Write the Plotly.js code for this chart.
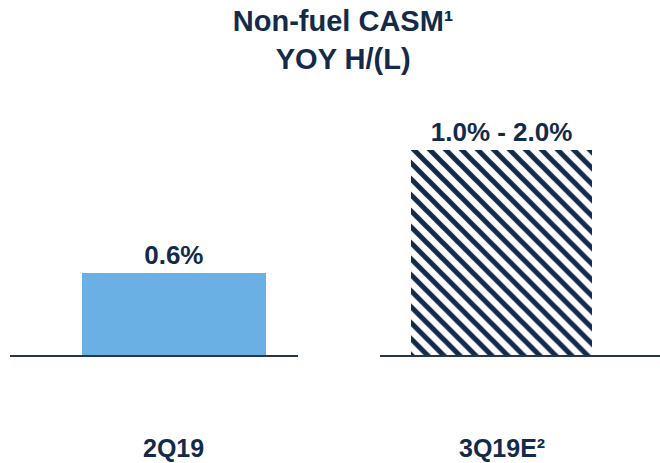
<!DOCTYPE html>
<html>
<head>
<meta charset="utf-8">
<script src="https://cdn.plot.ly/plotly-3.0.1.min.js"></script>
<style>html,body{margin:0;padding:0;background:#fff;}#chart{width:660px;height:463px;}</style>
</head>
<body>
<div id="chart"></div>
<script>
// Data
const categories = ['2Q19', '3Q19E²'];
const values = [0.6, 1.5];
const valueLabels = ['0.6%', '1.0% - 2.0%'];
const titleText = 'Non-fuel CASM¹<br>YOY H/(L)';

const NAVY = '#132A4A';
const LIGHTBLUE = '#6AB0E4';
const FONT = 'Liberation Sans, Arial, sans-serif';

const traces = [
  {
    type: 'bar', x: [categories[0]], y: [values[0]], text: [valueLabels[0]],
    textposition: 'outside', cliponaxis: false, width: 0.64,
    textfont: {family: FONT, size: 26, color: NAVY, weight: 'bold'},
    marker: {color: LIGHTBLUE, line: {width: 0}},
    xaxis: 'x', yaxis: 'y', hoverinfo: 'none'
  },
  {
    type: 'bar', x: [categories[1]], y: [values[1]], text: [valueLabels[1]],
    textposition: 'outside', cliponaxis: false, width: 0.64,
    textfont: {family: FONT, size: 26, color: NAVY, weight: 'bold'},
    marker: {color: 'white', line: {width: 0},
      pattern: {shape: '\\', fgcolor: NAVY, bgcolor: 'white', size: 11.3, solidity: 0.45, fillmode: 'replace'}},
    xaxis: 'x2', yaxis: 'y2', hoverinfo: 'none'
  }
];

const axisX = {
  showline: true, linecolor: '#26364F', linewidth: 2, showgrid: false, zeroline: false,
  showticklabels: false, ticks: '', fixedrange: true
};
const axisY = {
  range: [0, 1.865], showline: false, showgrid: false, zeroline: false,
  showticklabels: false, ticks: '', fixedrange: true
};

const layout = {
  width: 660, height: 463,
  margin: {l: 0, r: 0, t: 100, b: 108},
  paper_bgcolor: 'white', plot_bgcolor: 'white',
  showlegend: false,
  bargap: 0,
  title: {
    text: titleText, x: 0.52, xanchor: 'center', xref: 'container',
    y: 0.932, yanchor: 'top', yref: 'container',
    font: {family: FONT, size: 29, color: NAVY, weight: 'bold'}
  },
  xaxis: Object.assign({}, axisX, {domain: [0.0152, 0.4515], range: [-0.570, 0.432], type: 'category'}),
  xaxis2: Object.assign({}, axisX, {domain: [0.5758, 1.0], range: [-0.428, 0.558], type: 'category', anchor: 'y2'}),
  yaxis: Object.assign({}, axisY, {anchor: 'x'}),
  yaxis2: Object.assign({}, axisY, {anchor: 'x2'}),
  annotations: categories.map((c, i) => ({
    text: c, x: c, xref: i === 0 ? 'x' : 'x2', y: -0.365, yref: 'paper',
    xanchor: 'center', yanchor: 'middle', showarrow: false,
    font: {family: FONT, size: 25, color: NAVY, weight: 'bold'}
  }))
};

Plotly.newPlot('chart', traces, layout, {staticPlot: true, displayModeBar: false});
</script>
</body>
</html>
